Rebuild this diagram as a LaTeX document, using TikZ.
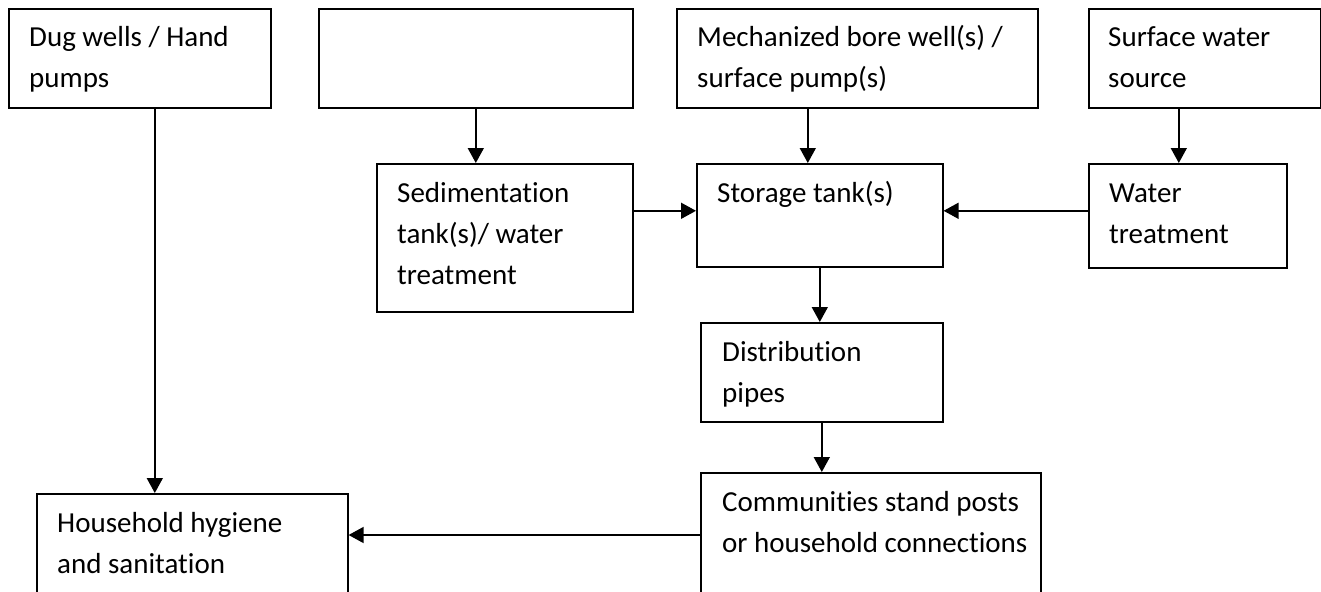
\documentclass[tikz,border=0pt]{standalone}
\usepackage{fontspec}
\setmainfont{Carlito}[RawFeature=-liga]
\usetikzlibrary{arrows.meta}

\begin{document}
\begin{tikzpicture}[x=1pt, y=-1pt,
  box/.style={draw, line width=1.6pt, anchor=north west, inner sep=0pt},
  txt/.style={anchor=base west, align=left, inner sep=0pt,
    font=\fontsize{29}{41}\selectfont},
  flow/.style={-{Triangle[length=15pt, width=16pt]}, line width=1.6pt}]

  %% Page
  \fill[white] (0,0) rectangle (1321,591);
  \clip (0,0) rectangle (1321,591);

  %% Sources (top row)
  \node[box, minimum width=262pt, minimum height=99pt] (dug) at (8,8) {};
  \node[box, minimum width=314pt, minimum height=99pt] (blank) at (318,8) {};
  \node[box, minimum width=361pt, minimum height=99pt] (mech) at (676,8) {};
  \node[box, minimum width=232pt, minimum height=99pt] (surf) at (1088,8) {};

  %% Treatment and storage
  \node[box, minimum width=256pt, minimum height=148pt] (sed) at (376,163) {};
  \node[box, minimum width=246pt, minimum height=103pt] (stor) at (696,163) {};
  \node[box, minimum width=198pt, minimum height=104pt] (wtr) at (1088,163) {};

  %% Distribution and use
  \node[box, minimum width=242pt, minimum height=99pt] (dist) at (700,322) {};
  \node[box, minimum width=340pt, minimum height=140pt] (comm) at (700,472) {};
  \node[box, minimum width=311pt, minimum height=120pt] (hyg) at (36,493) {};

  %% Labels (anchored on the baseline of their last line)
  \node[txt] (dugtxt) at ([shift={(21,80)}]dug.north west)
    {Dug wells / Hand\\pumps};
  \node[txt] (mechtxt) at ([shift={(21,80)}]mech.north west)
    {Mechanized bore well(s) /\\surface pump(s)};
  \node[txt] (surftxt) at ([shift={(20,80)}]surf.north west)
    {Surface water\\source};
  \node[txt] (sedtxt) at ([shift={(21,121)}]sed.north west)
    {Sedimentation\\tank(s)/ water\\treatment};
  \node[txt] (stortxt) at ([shift={(21,39)}]stor.north west)
    {Storage tank(s)};
  \node[txt] (wtrtxt) at ([shift={(21,80)}]wtr.north west)
    {Water\\treatment};
  \node[txt] (disttxt) at ([shift={(22,80)}]dist.north west)
    {Distribution\\pipes};
  \node[txt] (commtxt) at ([shift={(22,80)}]comm.north west)
    {Communities stand posts\\or household connections};
  \node[txt] (hygtxt) at ([shift={(21,80)}]hyg.north west)
    {Household hygiene\\and sanitation};

  %% Flows down from the sources
  \draw[flow] ([xshift=15pt]dug.south) -- ([xshift=15pt]dug.south |- hyg.north);
  \draw[flow] (blank.south) -- (blank.south |- sed.north);
  \draw[flow] ([xshift=-12pt]stor.north |- mech.south) -- ([xshift=-12pt]stor.north);
  \draw[flow] ([xshift=-9pt]wtr.north |- surf.south) -- ([xshift=-9pt]wtr.north);

  %% Into storage
  \draw[flow] ([yshift=4.5pt]stor.west -| sed.east) -- ([yshift=4.5pt]stor.west);
  \draw[flow] ([yshift=5pt]wtr.west) -- ([yshift=5pt]wtr.west -| stor.east);

  %% Storage to households
  \draw[flow] (stor.south) -- (stor.south |- dist.north);
  \draw[flow] (dist.south) -- (dist.south |- comm.north);
  \draw[flow] ([yshift=-42pt]hyg.north east -| comm.west) -- ([yshift=-42pt]hyg.north east);

\end{tikzpicture}
\end{document}
